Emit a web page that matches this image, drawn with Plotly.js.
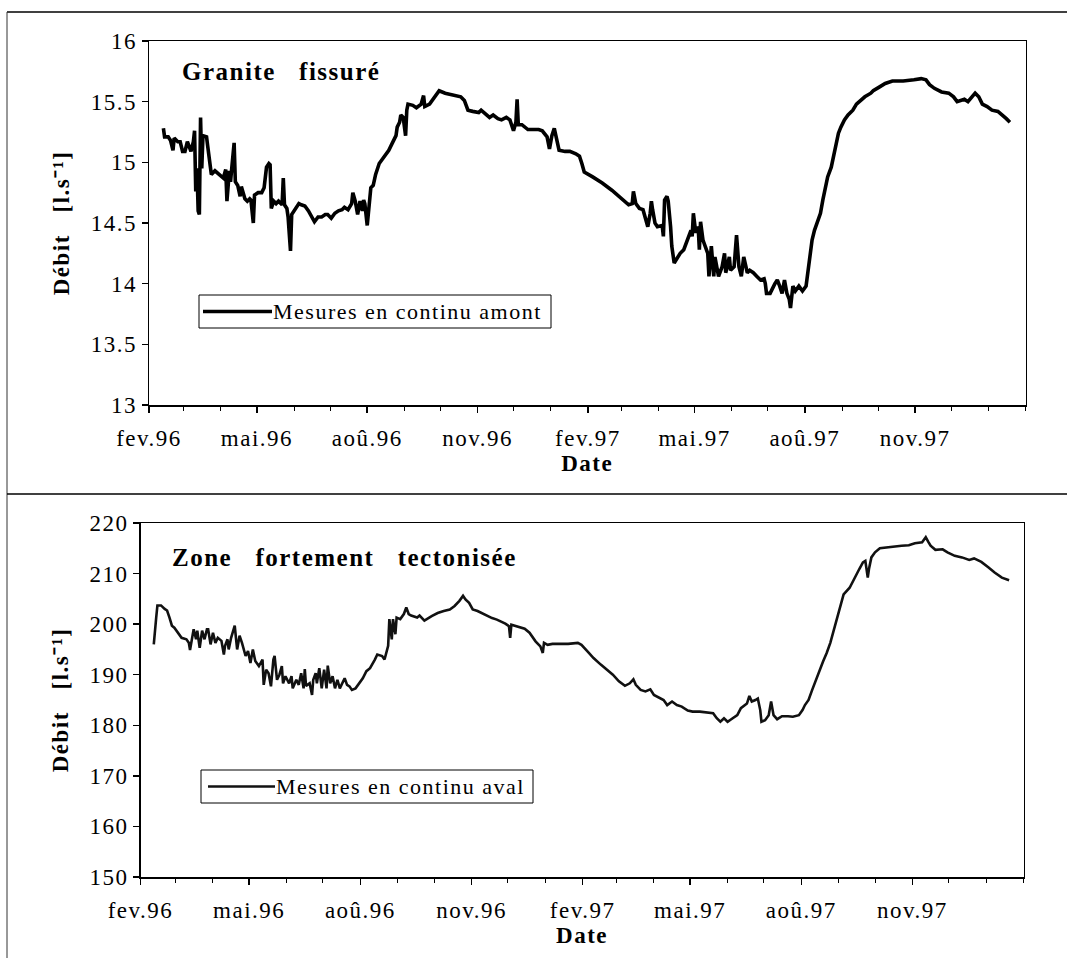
<!DOCTYPE html>
<html>
<head>
<meta charset="utf-8">
<script src="https://cdn.plot.ly/plotly-3.0.1.min.js"></script>
<style>
html,body{margin:0;padding:0;background:#fff}
text{letter-spacing:1.5px}
</style>
</head>
<body>
<div id="chart" style="width:1067px;height:958px"></div>
<script>
// ---- tick labels (x axis, every 3 months) ----
const tickDates = ['1996-02-01','1996-05-01','1996-08-01','1996-11-01','1997-02-01','1997-05-01','1997-08-01','1997-11-01'];
const tickLabels = ['fev.96','mai.96','aoû.96','nov.96','fev.97','mai.97','aoû.97','nov.97'];

// ---- upper panel: Granite fissuré (Mesures en continu amont), l/s ----
const amontDates = [
'1996-02-13','1996-02-14','1996-02-17','1996-02-19','1996-02-21','1996-02-22','1996-02-25','1996-02-27','1996-02-29',
'1996-03-02','1996-03-04','1996-03-07','1996-03-09','1996-03-10','1996-03-11','1996-03-12','1996-03-13','1996-03-14',
'1996-03-15','1996-03-16','1996-03-17','1996-03-20','1996-03-21','1996-03-23','1996-03-24','1996-03-27','1996-03-31',
'1996-04-03','1996-04-05','1996-04-06','1996-04-08','1996-04-09','1996-04-10','1996-04-12','1996-04-13','1996-04-15',
'1996-04-17','1996-04-18','1996-04-21','1996-04-23','1996-04-25','1996-04-26','1996-04-28','1996-04-29',
'1996-05-02','1996-05-05','1996-05-07','1996-05-09','1996-05-11','1996-05-12','1996-05-13','1996-05-15','1996-05-17',
'1996-05-19','1996-05-22','1996-05-23','1996-05-24','1996-05-26','1996-05-27','1996-05-29','1996-05-30',
'1996-06-02','1996-06-05','1996-06-07','1996-06-10','1996-06-13','1996-06-16','1996-06-18','1996-06-21','1996-06-24',
'1996-06-27','1996-06-29','1996-07-02','1996-07-05','1996-07-08','1996-07-11','1996-07-13','1996-07-16','1996-07-19',
'1996-07-20','1996-07-22','1996-07-24','1996-07-26','1996-07-28','1996-07-29','1996-07-30',
'1996-08-01','1996-08-03','1996-08-04','1996-08-06','1996-08-08','1996-08-11','1996-08-15','1996-08-19','1996-08-22',
'1996-08-25','1996-08-26','1996-08-28','1996-08-29','1996-08-31',
'1996-09-02','1996-09-03','1996-09-04','1996-09-08','1996-09-11','1996-09-15','1996-09-17','1996-09-18','1996-09-22',
'1996-09-26','1996-09-30','1996-10-05','1996-10-09','1996-10-14','1996-10-18','1996-10-21','1996-10-24','1996-10-28',
'1996-11-02','1996-11-04','1996-11-07','1996-11-11','1996-11-14','1996-11-18','1996-11-21','1996-11-25','1996-11-28',
'1996-12-01','1996-12-03','1996-12-04','1996-12-05','1996-12-08','1996-12-13','1996-12-17','1996-12-22','1996-12-25',
'1996-12-29','1996-12-31','1997-01-02','1997-01-04','1997-01-06','1997-01-08','1997-01-13','1997-01-17','1997-01-22',
'1997-01-25','1997-01-27','1997-01-29','1997-02-05','1997-02-13','1997-02-21','1997-03-01','1997-03-07','1997-03-10',
'1997-03-11','1997-03-13','1997-03-16','1997-03-19','1997-03-21','1997-03-23','1997-03-25','1997-03-26','1997-03-27',
'1997-03-29','1997-03-31','1997-04-04','1997-04-05','1997-04-06','1997-04-08','1997-04-09','1997-04-11','1997-04-12',
'1997-04-14','1997-04-17','1997-04-19','1997-04-22','1997-04-25','1997-04-28','1997-04-29','1997-04-30',
'1997-05-02','1997-05-04','1997-05-05','1997-05-06','1997-05-08','1997-05-10','1997-05-12','1997-05-13','1997-05-15',
'1997-05-17','1997-05-18','1997-05-21','1997-05-24','1997-05-26','1997-05-27','1997-05-30','1997-05-31',
'1997-06-03','1997-06-05','1997-06-07','1997-06-09','1997-06-11','1997-06-14','1997-06-16','1997-06-19','1997-06-22',
'1997-06-25','1997-06-28','1997-06-29','1997-06-30','1997-07-03','1997-07-07','1997-07-09','1997-07-11','1997-07-13',
'1997-07-15','1997-07-17','1997-07-19','1997-07-20','1997-07-22','1997-07-24','1997-07-27','1997-07-30',
'1997-08-02','1997-08-03','1997-08-05','1997-08-07','1997-08-09','1997-08-11','1997-08-14','1997-08-16','1997-08-18',
'1997-08-20','1997-08-23','1997-08-25','1997-08-27','1997-08-29','1997-08-31','1997-09-03','1997-09-06','1997-09-10',
'1997-09-13','1997-09-16','1997-09-20','1997-09-25','1997-09-27','1997-10-02','1997-10-07','1997-10-13','1997-10-22',
'1997-10-31','1997-11-06','1997-11-10','1997-11-13','1997-11-17','1997-11-23','1997-11-29','1997-12-03','1997-12-06',
'1997-12-12','1997-12-15','1997-12-18','1997-12-21','1997-12-24','1997-12-27','1997-12-31','1998-01-04','1998-01-09',
'1998-01-13','1998-01-16','1998-01-19'];
const amontFlow = [
15.28,15.21,15.21,15.18,15.10,15.20,15.17,15.17,15.09,
15.09,15.17,15.09,15.17,15.26,14.76,14.95,14.60,14.57,
15.37,14.95,15.22,15.21,15.13,14.96,14.90,14.93,14.90,
14.87,14.94,14.68,14.93,14.84,14.95,15.16,14.84,14.81,
14.72,14.80,14.70,14.68,14.70,14.69,14.50,14.73,
14.75,14.75,14.79,14.96,14.99,14.98,14.62,14.68,14.66,
14.68,14.65,14.87,14.65,14.62,14.55,14.27,14.57,
14.62,14.66,14.65,14.64,14.60,14.55,14.51,14.55,14.55,
14.57,14.57,14.54,14.58,14.60,14.61,14.63,14.61,14.66,
14.75,14.68,14.57,14.68,14.60,14.69,14.66,
14.48,14.68,14.79,14.81,14.90,14.99,15.05,15.10,15.16,
15.22,15.29,15.33,15.39,15.37,
15.22,15.43,15.48,15.47,15.45,15.48,15.55,15.46,15.48,
15.54,15.59,15.57,15.56,15.55,15.54,15.51,15.43,15.42,
15.41,15.43,15.40,15.37,15.39,15.36,15.35,15.37,15.35,
15.26,15.33,15.52,15.31,15.31,15.27,15.27,15.27,15.26,
15.21,15.11,15.22,15.28,15.18,15.10,15.09,15.09,15.07,
15.05,14.99,14.92,14.88,14.83,14.77,14.70,14.65,14.66,
14.76,14.66,14.62,14.61,14.55,14.47,14.58,14.68,14.61,
14.50,14.47,14.48,14.39,14.69,14.72,14.68,14.47,14.31,
14.17,14.22,14.25,14.28,14.36,14.44,14.39,14.58,
14.42,14.47,14.28,14.51,14.36,14.31,14.25,14.06,14.31,
14.06,14.22,14.06,14.14,14.25,14.09,14.22,14.11,
14.14,14.40,14.14,14.06,14.22,14.09,14.11,14.09,14.06,
14.03,14.04,14.00,13.92,13.92,14.00,14.03,13.98,13.92,
14.03,13.92,13.87,13.80,13.98,13.94,13.98,13.94,
13.98,14.06,14.20,14.36,14.44,14.50,14.58,14.69,14.77,
14.88,14.96,15.05,15.16,15.24,15.29,15.35,15.39,15.43,
15.48,15.51,15.54,15.57,15.59,15.62,15.65,15.67,15.67,
15.68,15.69,15.68,15.64,15.61,15.58,15.57,15.54,15.50,
15.52,15.50,15.53,15.57,15.54,15.48,15.46,15.43,15.42,
15.39,15.36,15.33];

// ---- lower panel: Zone fortement tectonisée (Mesures en continu aval), l/s ----
const avalDates = [
'1996-02-12','1996-02-13','1996-02-14','1996-02-15','1996-02-18','1996-02-21','1996-02-23','1996-02-25','1996-02-27',
'1996-02-29','1996-03-04','1996-03-06','1996-03-10','1996-03-12','1996-03-13','1996-03-15','1996-03-16','1996-03-18',
'1996-03-19','1996-03-21','1996-03-23','1996-03-25','1996-03-27','1996-03-28','1996-03-30','1996-04-01','1996-04-03',
'1996-04-05','1996-04-08','1996-04-10','1996-04-11','1996-04-13','1996-04-14','1996-04-16','1996-04-19','1996-04-20',
'1996-04-21','1996-04-23','1996-04-25','1996-04-28','1996-04-30','1996-05-02','1996-05-04','1996-05-06','1996-05-09',
'1996-05-12','1996-05-13','1996-05-15','1996-05-17','1996-05-19','1996-05-21','1996-05-22','1996-05-24','1996-05-26',
'1996-05-28','1996-05-29','1996-05-31','1996-06-03','1996-06-05','1996-06-06','1996-06-09','1996-06-11','1996-06-13',
'1996-06-15','1996-06-16','1996-06-17','1996-06-20','1996-06-22','1996-06-23','1996-06-25','1996-06-26','1996-06-28',
'1996-06-30','1996-07-02','1996-07-04','1996-07-05','1996-07-07','1996-07-09','1996-07-11','1996-07-13','1996-07-15',
'1996-07-19','1996-07-21','1996-07-23','1996-07-25','1996-07-28','1996-07-31','1996-08-03','1996-08-06','1996-08-09',
'1996-08-13','1996-08-15','1996-08-19','1996-08-21','1996-08-24','1996-08-25','1996-08-27','1996-08-28','1996-08-30',
'1996-08-31','1996-09-03','1996-09-06','1996-09-08','1996-09-10','1996-09-12','1996-09-17','1996-09-19','1996-09-23',
'1996-09-29','1996-10-04','1996-10-09','1996-10-14','1996-10-18','1996-10-22','1996-10-25','1996-10-27','1996-10-30',
'1996-11-02','1996-11-06','1996-11-10','1996-11-14','1996-11-18','1996-11-22','1996-11-27','1996-11-29','1996-12-02',
'1996-12-03','1996-12-04','1996-12-08','1996-12-15','1996-12-19','1996-12-24','1996-12-28','1996-12-30','1996-12-31',
'1997-01-03','1997-01-07','1997-01-13','1997-01-20','1997-01-28','1997-01-31','1997-02-05','1997-02-10','1997-02-16',
'1997-02-21','1997-02-26','1997-03-03','1997-03-08','1997-03-12','1997-03-15','1997-03-17','1997-03-21','1997-03-25',
'1997-03-29','1997-04-01','1997-04-06','1997-04-09','1997-04-12','1997-04-16','1997-04-20','1997-04-24','1997-04-29',
'1997-05-03','1997-05-09','1997-05-14','1997-05-20','1997-05-23','1997-05-26','1997-05-29','1997-06-01','1997-06-04',
'1997-06-07','1997-06-09','1997-06-12','1997-06-15','1997-06-17','1997-06-19','1997-06-21','1997-06-24','1997-06-26',
'1997-06-28','1997-06-29','1997-07-02','1997-07-05','1997-07-07','1997-07-09','1997-07-12','1997-07-16','1997-07-21',
'1997-07-25','1997-07-30','1997-08-02','1997-08-04','1997-08-07','1997-08-10','1997-08-13','1997-08-16','1997-08-19',
'1997-08-22','1997-08-25','1997-08-28','1997-08-31','1997-09-03','1997-09-05','1997-09-10','1997-09-14','1997-09-18',
'1997-09-21','1997-09-23','1997-09-25','1997-09-26','1997-09-28','1997-10-01','1997-10-05','1997-10-11','1997-10-17',
'1997-10-23','1997-10-29','1997-11-03','1997-11-09','1997-11-12','1997-11-14','1997-11-16','1997-11-20','1997-11-26',
'1997-11-30','1997-12-06','1997-12-12','1997-12-18','1997-12-22','1997-12-28','1998-01-03','1998-01-08','1998-01-14',
'1998-01-20'];
const avalFlow = [
196.0,199.7,201.3,203.7,203.7,203.0,202.7,201.3,199.7,
199.3,198.0,197.3,197.0,196.3,194.9,198.3,199.0,197.0,
198.7,195.3,198.7,197.0,199.0,199.0,196.0,198.3,196.3,
197.3,196.7,194.0,195.7,197.0,195.0,197.3,199.7,197.3,
195.0,197.7,196.3,193.7,194.7,192.3,195.0,192.7,191.7,
193.0,188.0,191.0,190.3,187.7,193.0,193.7,189.0,190.0,
191.7,188.3,189.7,188.3,189.7,187.3,189.0,188.0,190.3,
187.3,191.1,187.8,188.3,186.0,189.0,190.3,188.3,191.3,
187.3,191.0,187.3,191.8,188.3,189.7,187.3,189.0,187.3,
189.3,188.0,187.7,187.0,187.3,188.3,189.3,190.7,191.3,
193.0,194.0,193.7,193.0,195.7,201.0,197.0,201.0,198.0,
201.3,201.0,202.0,203.3,202.0,201.7,201.3,201.7,200.7,
201.6,202.2,202.6,202.9,203.6,204.6,205.6,204.9,204.2,
202.9,202.6,202.1,201.6,201.2,200.9,200.4,200.1,199.6,
197.3,199.9,199.6,199.1,198.3,196.6,195.6,194.3,196.3,
195.9,196.1,196.1,196.1,196.3,195.9,194.6,193.3,192.0,
191.0,190.0,188.7,187.8,188.3,189.1,188.0,187.0,186.7,
187.1,186.0,185.3,185.0,184.0,184.7,184.0,183.7,182.9,
182.7,182.7,182.6,182.4,181.4,180.7,181.4,180.7,181.2,
181.7,182.0,183.4,184.0,184.3,185.8,184.7,185.0,185.3,
183.0,180.7,181.0,182.0,184.7,182.0,181.2,181.8,181.8,
181.7,182.0,183.0,184.0,185.0,187.0,189.0,191.0,192.6,
194.3,196.3,198.9,201.6,204.2,205.9,207.2,208.9,210.9,
212.2,212.5,209.2,210.9,213.2,214.2,215.0,215.2,215.4,
215.5,215.6,216.0,216.2,217.2,216.3,215.5,214.7,214.8,
214.2,213.5,213.2,212.7,213.0,212.3,211.2,210.2,209.2,
208.7];

const serif = 'Liberation Serif';
const tickFont = {family: serif, size: 23, color: '#000'};
const titleFont = {family: serif, size: 23, color: '#000', weight: 'bold'};

function xAxis(domain, anchor) {
  return {
    type: 'date', domain: domain, anchor: anchor,
    range: ['1996-02-01', '1998-02-01'],
    tickmode: 'array', tickvals: tickDates, ticktext: tickLabels,
    ticks: 'outside', ticklen: 6, tickwidth: 1.5, tickcolor: '#000',
    minor: {tickmode: 'linear', tick0: '1996-02-01', dtick: 'M1', ticks: 'outside',
            ticklen: 4, tickwidth: 1, tickcolor: '#000', showgrid: false},
    showline: true, linecolor: '#000', linewidth: 1.5, mirror: true,
    showgrid: false, zeroline: false,
    tickfont: tickFont, ticklabelstandoff: 6,
    title: {text: 'Date', font: titleFont, standoff: 0}
  };
}
function yAxis(domain, anchor, range, dtick) {
  return {
    domain: domain, anchor: anchor, range: range, dtick: dtick, tick0: range[0],
    ticks: 'outside', ticklen: 6, tickwidth: 1.5, tickcolor: '#000',
    showline: true, linecolor: '#000', linewidth: 1.5, mirror: true,
    showgrid: false, zeroline: false,
    tickfont: tickFont, ticklabelstandoff: 0,
    title: {text: 'Débit\u00a0\u00a0\u00a0[l.s\u207B\u00B9]', font: titleFont, standoff: 14}
  };
}

const traces = [
  {type: 'scatter', mode: 'lines', name: 'Mesures en continu amont',
   x: amontDates, y: amontFlow, xaxis: 'x', yaxis: 'y',
   line: {color: '#000', width: 3.6}, showlegend: false},
  {type: 'scatter', mode: 'lines', name: 'Mesures en continu aval',
   x: avalDates, y: avalFlow, xaxis: 'x2', yaxis: 'y2',
   line: {color: '#111', width: 2.6}, showlegend: false}
];

const W = 1067, H = 958;
const px = v => v / W;
const py = v => 1 - v / H;

const layout = {
  width: W, height: H,
  margin: {l: 0, r: 0, t: 0, b: 0},
  paper_bgcolor: '#fff', plot_bgcolor: '#fff',
  showlegend: false,
  font: {family: serif, color: '#000'},
  xaxis: xAxis([px(149), px(1025.5)], 'y'),
  yaxis: yAxis([py(405), py(41)], 'x', [13, 16], 0.5),
  xaxis2: xAxis([px(140.5), px(1023.6)], 'y2'),
  yaxis2: yAxis([py(877), py(523)], 'x2', [150, 220], 10),
  shapes: [
    // page frame
    {type: 'line', xref: 'paper', yref: 'paper', x0: px(7), x1: 1, y0: py(12), y1: py(12), line: {color: '#000', width: 1.5}},
    {type: 'line', xref: 'paper', yref: 'paper', x0: px(7), x1: px(7), y0: py(12), y1: 0, line: {color: '#333', width: 1}},
    {type: 'line', xref: 'paper', yref: 'paper', x0: px(7), x1: 1, y0: py(494), y1: py(494), line: {color: '#000', width: 1.5}},
    // legend boxes
    {type: 'rect', xref: 'paper', yref: 'paper', x0: px(199), x1: px(551), y0: py(328), y1: py(295), line: {color: '#000', width: 1}, fillcolor: 'rgba(0,0,0,0)'},
    {type: 'line', xref: 'paper', yref: 'paper', x0: px(203), x1: px(272), y0: py(311.5), y1: py(311.5), line: {color: '#000', width: 3.6}},
    {type: 'rect', xref: 'paper', yref: 'paper', x0: px(201), x1: px(533), y0: py(803), y1: py(770), line: {color: '#000', width: 1}, fillcolor: 'rgba(0,0,0,0)'},
    {type: 'line', xref: 'paper', yref: 'paper', x0: px(208), x1: px(275), y0: py(786.5), y1: py(786.5), line: {color: '#111', width: 2.6}}
  ],
  annotations: [
    {xref: 'paper', yref: 'paper', x: px(180), y: py(72), xanchor: 'left', yanchor: 'middle', showarrow: false,
     text: 'Granite\u00a0\u00a0\u00a0fissuré', font: {family: serif, size: 25, color: '#000', weight: 'bold'}},
    {xref: 'paper', yref: 'paper', x: px(170), y: py(557), xanchor: 'left', yanchor: 'middle', showarrow: false,
     text: 'Zone\u00a0\u00a0\u00a0fortement\u00a0\u00a0\u00a0tectonisée', font: {family: serif, size: 25, color: '#000', weight: 'bold'}},
    {xref: 'paper', yref: 'paper', x: px(271), y: py(311.5), xanchor: 'left', yanchor: 'middle', showarrow: false,
     text: 'Mesures en continu amont', font: {family: serif, size: 22, color: '#000'}},
    {xref: 'paper', yref: 'paper', x: px(274), y: py(786.5), xanchor: 'left', yanchor: 'middle', showarrow: false,
     text: 'Mesures en continu aval', font: {family: serif, size: 22, color: '#000'}}
  ]
};

Plotly.newPlot('chart', traces, layout, {displayModeBar: false, staticPlot: true});
</script>
</body>
</html>
